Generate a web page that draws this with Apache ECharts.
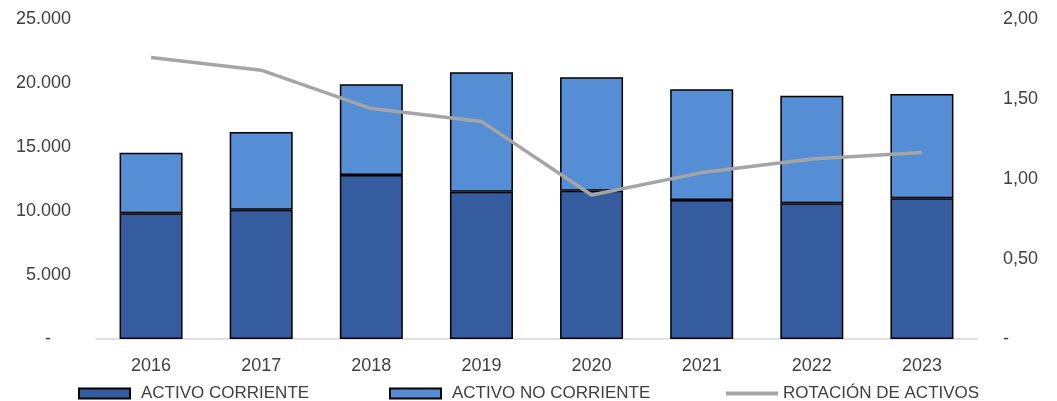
<!DOCTYPE html>
<html><head><meta charset="utf-8">
<script src="https://cdn.jsdelivr.net/npm/echarts@6/dist/echarts.min.js"></script>
<style>html,body{margin:0;padding:0;background:#fff}#c{width:1057px;height:401px}</style>
</head><body><div id="c"></div>
<script>
const years = ['2016','2017','2018','2019','2020','2021','2022','2023'];
const activoCorriente = [9820, 10100, 12810, 11510, 11590, 10860, 10600, 10990];
const activoNoCorriente = [4730, 6070, 7090, 9330, 8860, 8650, 8410, 8150];
const rotacionActivos = [1.76, 1.68, 1.44, 1.36, 0.90, 1.04, 1.125, 1.165];
const leftTicks = [0, 5000, 10000, 15000, 20000, 25000];
const rightTicks = [0, 0.5, 1, 1.5, 2];

const FONT = 'Liberation Sans';
const TXT = '#404040';
function fmtLeft(v){ if(v===0) return '-    '; return v.toLocaleString('de-DE'); }
function fmtRight(v){ if(v===0) return '-'; return v.toFixed(2).replace('.', ','); }

const chart = echarts.init(document.getElementById('c'));
const legendBase = {orient:'horizontal', top:385, padding:0, itemHeight:10, itemWidth:51, itemGap:0,
  icon:'rect', textStyle:{fontFamily:FONT, fontSize:17, color:TXT, padding:[0,0,0,6]}};
chart.setOption({
  animation:false,
  grid:{left:96, right:80, top:19, bottom:62},
  legend:[
    Object.assign({}, legendBase, {left:78, data:['ACTIVO CORRIENTE']}),
    Object.assign({}, legendBase, {left:389, data:['ACTIVO NO CORRIENTE']}),
    Object.assign({}, legendBase, {left:726, itemWidth:52, itemHeight:4,
      itemStyle:{color:'#A5A5A5', borderWidth:0},
      textStyle:{fontFamily:FONT, fontSize:17, color:TXT, padding:[0,0,0,0]},
      data:['ROTACIÓN DE ACTIVOS']})
  ],
  xAxis:{type:'category', data:years,
    axisLine:{lineStyle:{color:'#D9D9D9', width:1.5}}, axisTick:{show:false},
    axisLabel:{fontFamily:FONT, fontSize:18, color:TXT, margin:18}},
  yAxis:[
    {type:'value', min:0, max:25000, interval:5000, splitLine:{show:false},
     axisLabel:{formatter:fmtLeft, fontFamily:FONT, fontSize:18, color:TXT, margin:25}},
    {type:'value', min:0, max:2, interval:0.5, splitLine:{show:false},
     axisLabel:{formatter:fmtRight, fontFamily:FONT, fontSize:18, color:TXT, margin:26}}
  ],
  series:[
    {name:'ACTIVO CORRIENTE', type:'bar', stack:'a', data:activoCorriente, barWidth:63,
     itemStyle:{color:'#355C9F', borderColor:'#000', borderWidth:1.5}},
    {name:'ACTIVO NO CORRIENTE', type:'bar', stack:'a', data:activoNoCorriente, barWidth:63,
     itemStyle:{color:'#558ED5', borderColor:'#000', borderWidth:1.5}},
    {name:'ROTACIÓN DE ACTIVOS', type:'line', yAxisIndex:1, data:rotacionActivos,
     symbol:'none', lineStyle:{color:'#A5A5A5', width:3.5}, itemStyle:{color:'#A5A5A5'}}
  ]
});
</script></body></html>
